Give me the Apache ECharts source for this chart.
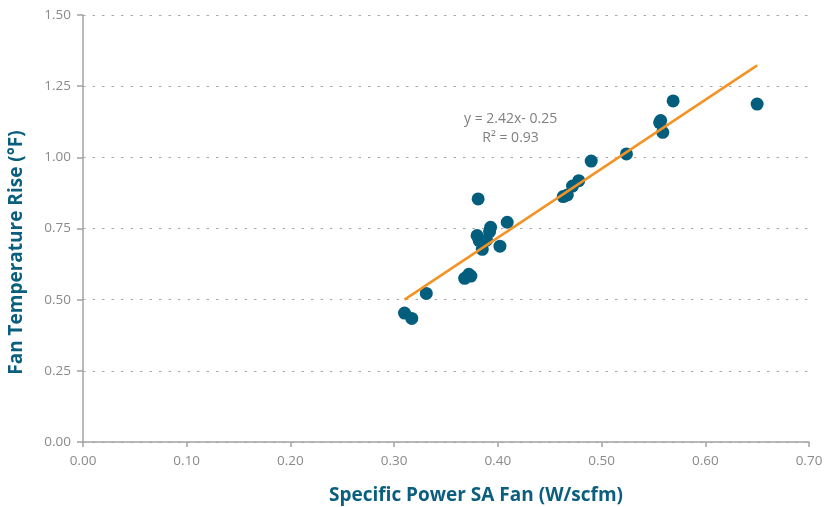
<!DOCTYPE html>
<html>
<head>
<meta charset="utf-8">
<script src="https://cdn.jsdelivr.net/npm/echarts@6/dist/echarts.min.js"></script>
<style>
  html, body { margin: 0; padding: 0; background: #fff; }
  #chart { width: 827px; height: 507px; }
</style>
</head>
<body>
<div id="chart"></div>
<script>
// Specific power of the supply-air fan (W/scfm)
const specificPower = [
  0.310, 0.317, 0.331, 0.368, 0.372, 0.374, 0.381, 0.380, 0.393, 0.392,
  0.409, 0.402, 0.385, 0.382, 0.389, 0.463, 0.467, 0.472, 0.478, 0.490,
  0.524, 0.569, 0.557, 0.556, 0.559, 0.650
];
// Measured temperature rise across the fan (°F)
const tempRise = [
  0.453, 0.434, 0.522, 0.575, 0.589, 0.583, 0.854, 0.725, 0.754, 0.739,
  0.772, 0.688, 0.677, 0.707, 0.709, 0.862, 0.868, 0.899, 0.918, 0.987,
  1.012, 1.198, 1.129, 1.122, 1.088, 1.187
];
// Linear fit reported on the chart
const fitSlope = 2.42;
const fitIntercept = -0.25;
const fitLabel = ['y = 2.42x- 0.25', 'R\u00B2 = 0.93'];

const xTicks = ['0.00', '0.10', '0.20', '0.30', '0.40', '0.50', '0.60', '0.70'];
const yTicks = ['0.00', '0.25', '0.50', '0.75', '1.00', '1.25', '1.50'];

const points = specificPower.map((x, i) => [x, tempRise[i]]);
const xMin = Math.min(...specificPower);
const xMax = Math.max(...specificPower);
const fitLine = [xMin, xMax].map(x => [x, fitSlope * x + fitIntercept]);

const axisGray = '#a3a3a3';
const labelGray = '#8a8a8a';
const titleBlue = '#0b5f7e';
const font = '"Open Sans", "Lato", sans-serif';

const chart = echarts.init(document.getElementById('chart'), null, { renderer: 'canvas' });
chart.setOption({
  animation: false,
  backgroundColor: '#ffffff',
  grid: { left: 83, right: 18, top: 15, bottom: 65, outerBoundsMode: 'none', containLabel: false },
  xAxis: {
    type: 'value',
    min: 0, max: 0.7, interval: 0.1,
    name: 'Specific Power SA Fan (W/scfm)',
    nameLocation: 'middle',
    nameGap: 44,
    nameTextStyle: {
      color: titleBlue, fontSize: 19, fontWeight: 'bold', fontFamily: font,
      padding: [0, 0, 0, 60]
    },
    axisLine: { show: true, lineStyle: { color: axisGray, width: 1.5 } },
    axisTick: { show: true, length: 5, lineStyle: { color: axisGray, width: 1.5 } },
    axisLabel: {
      color: labelGray, fontSize: 13.5, fontFamily: font, margin: 12,
      formatter: (v) => xTicks[Math.round(v * 10)]
    },
    splitLine: { show: false }
  },
  yAxis: {
    type: 'value',
    min: 0, max: 1.5, interval: 0.25,
    name: 'Fan Temperature Rise (\u00B0F)',
    nameLocation: 'middle',
    nameGap: 57,
    nameTextStyle: {
      color: titleBlue, fontSize: 19, fontWeight: 'bold', fontFamily: font,
      padding: [0, 48, 0, 0]
    },
    axisLine: { show: true, lineStyle: { color: axisGray, width: 1.5 } },
    axisTick: { show: true, length: 6, lineStyle: { color: axisGray, width: 1.5 } },
    axisLabel: {
      color: labelGray, fontSize: 13.5, fontFamily: font, margin: 12,
      formatter: (v) => yTicks[Math.round(v * 4)]
    },
    splitLine: { show: true, lineStyle: { color: '#a8a8a8', width: 1.2, type: [2.5, 7] } }
  },
  series: [
    {
      type: 'scatter',
      data: points,
      symbol: 'circle',
      symbolSize: 13,
      itemStyle: { color: '#035e7d', opacity: 1 },
      z: 2
    },
    {
      type: 'line',
      data: fitLine,
      symbol: 'none',
      lineStyle: { color: '#f39325', width: 2.5 },
      z: 3
    }
  ],
  graphic: [
    {
      type: 'text',
      left: 464, top: 110,
      style: {
        text: fitLabel.join('\n'),
        fill: '#7f7f7f',
        font: '14px ' + font,
        textAlign: 'center',
        lineHeight: 19
      }
    }
  ]
});
</script>
</body>
</html>
